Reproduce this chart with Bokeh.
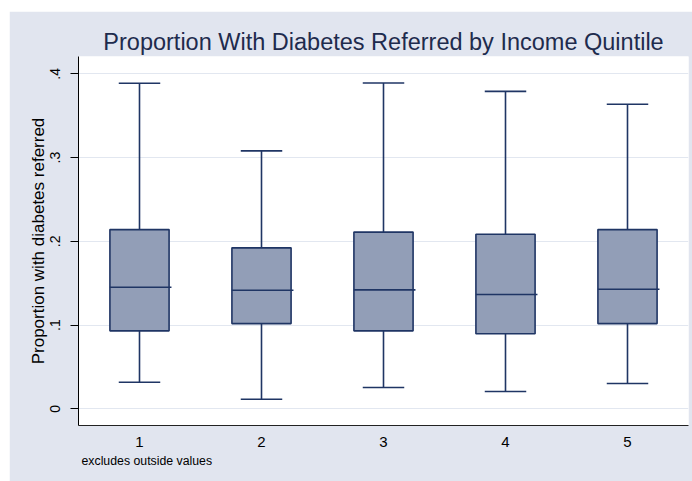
from bokeh.plotting import figure
from bokeh.models import Range1d, FixedTicker, Title, ColumnDataSource, Spacer
from bokeh.layouts import column, row
from bokeh.embed import file_html
from bokeh.resources import INLINE

quintiles = [1, 2, 3, 4, 5]
lower_whisker = [0.0318, 0.0115, 0.0254, 0.0207, 0.0302]
q1 = [0.0931, 0.1018, 0.0931, 0.0896, 0.1018]
median = [0.1452, 0.1416, 0.1421, 0.1365, 0.1428]
q3 = [0.2140, 0.1922, 0.2110, 0.2085, 0.2140]
upper_whisker = [0.3888, 0.3080, 0.3890, 0.3790, 0.3637]
y_ticks = [0, 0.1, 0.2, 0.3, 0.4]
y_tick_labels = ["0", ".1", ".2", ".3", ".4"]

FONT = "Liberation Sans"
NAVY = "#1f3564"
FILL = "#929eb7"
BG = "#e1e5ef"

src = ColumnDataSource(dict(
    x=quintiles, lo=lower_whisker, q1=q1, med=median, q3=q3, hi=upper_whisker,
    cl=[v - 0.17 for v in quintiles], cr=[v + 0.17 for v in quintiles],
    ml=[v - 0.243 for v in quintiles], mr=[v + 0.262 for v in quintiles],
))

p = figure(width=683, height=470, output_backend="svg", toolbar_location=None,
           x_range=Range1d(0.5, 5.5), y_range=Range1d(-0.0199, 0.4207),
           min_border_left=69, min_border_right=4, min_border_top=45, min_border_bottom=56)

p.background_fill_color = "white"
p.border_fill_color = BG
p.outline_line_color = None

# whiskers
p.segment(x0="x", y0="q3", x1="x", y1="hi", source=src, line_color=NAVY, line_width=1.6)
p.segment(x0="x", y0="q1", x1="x", y1="lo", source=src, line_color=NAVY, line_width=1.6)
p.segment(x0="cl", y0="hi", x1="cr", y1="hi", source=src, line_color=NAVY, line_width=1.6)
p.segment(x0="cl", y0="lo", x1="cr", y1="lo", source=src, line_color=NAVY, line_width=1.6)
# boxes
p.vbar(x="x", width=0.485, bottom="q1", top="q3", source=src,
       fill_color=FILL, line_color=NAVY, line_width=1.6)
p.segment(x0="ml", y0="med", x1="mr", y1="med", source=src, line_color=NAVY, line_width=1.6)

# title
p.title.text = "Proportion With Diabetes Referred by Income Quintile"
p.title.align = "center"
p.title.text_font = FONT
p.title.text_font_size = "23.5px"
p.title.text_font_style = "normal"
p.title.text_color = "#1e2b4d"
p.title.standoff = 3

# y axis
ya = p.yaxis[0]
ya.ticker = FixedTicker(ticks=y_ticks)
ya.major_label_overrides = {t: l for t, l in zip(y_ticks, y_tick_labels)}
ya.major_label_orientation = "vertical"
ya.major_label_text_font = FONT
ya.major_label_text_font_size = "14px"
ya.major_label_text_color = "black"
ya.major_tick_out = 8
ya.major_tick_in = 0
ya.minor_tick_line_color = None
ya.axis_line_color = "black"
ya.major_tick_line_color = "black"
ya.axis_label = "Proportion with diabetes referred"
ya.axis_label_text_font = FONT
ya.axis_label_text_font_size = "17px"
ya.axis_label_text_font_style = "normal"
ya.axis_label_text_color = "black"
ya.axis_label_standoff = 0
ya.major_label_standoff = 10

# x axis
xa = p.xaxis[0]
xa.ticker = FixedTicker(ticks=quintiles)
xa.major_label_text_font = FONT
xa.major_label_text_font_size = "15px"
xa.major_label_text_color = "black"
xa.major_tick_out = 0
xa.major_tick_in = 0
xa.minor_tick_line_color = None
xa.axis_line_color = "#222222"
xa.major_label_standoff = 11

p.xgrid.grid_line_color = None
p.ygrid.ticker = FixedTicker(ticks=y_ticks)
p.ygrid.grid_line_color = "#e2e7f0"
p.ygrid.grid_line_width = 1.2

note = Title(text="excludes outside values", align="left", text_font=FONT,
             text_font_size="12.3px", text_font_style="normal", text_color="black",
             offset=3, standoff=4)
p.add_layout(note, "below")

layout = column(Spacer(height=11), row(Spacer(width=9), p))
open("out.html", "w").write(file_html(layout, INLINE))
